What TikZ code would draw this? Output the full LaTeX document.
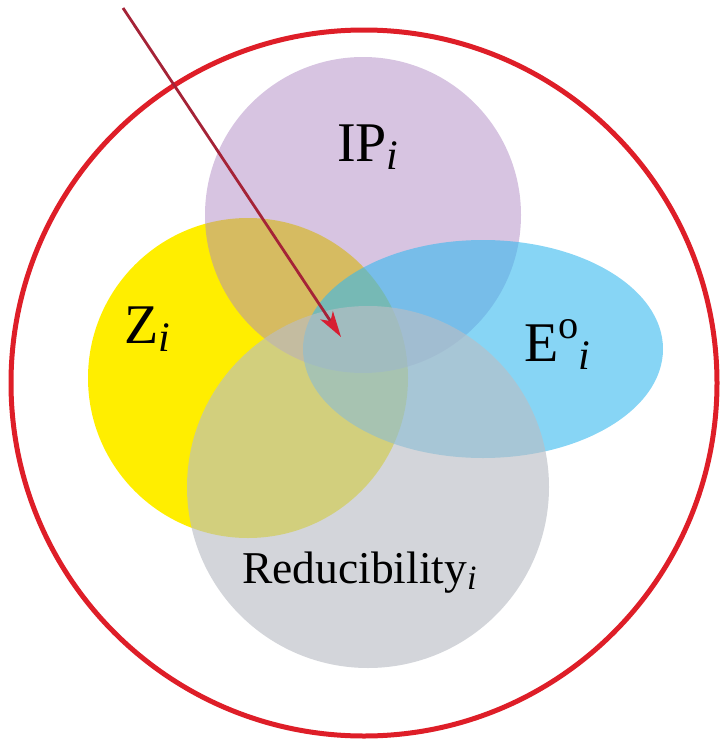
\documentclass[tikz,border=0pt]{standalone}
\usepackage{fontspec}
\setmainfont{Liberation Serif}
\usetikzlibrary{arrows.meta}
\definecolor{ipcol}{RGB}{175,137,195}
\definecolor{zcol}{RGB}{255,238,0}
\definecolor{ecol}{RGB}{55,185,238}
\definecolor{rcol}{RGB}{186,190,197}
\definecolor{ringred}{RGB}{222,30,40}
\definecolor{arrowline}{RGB}{165,35,55}
\definecolor{arrowheadcol}{RGB}{215,30,50}
\newcommand{\subidx}{\raisebox{-0.15em}{\scalebox{0.75}{\itshape i}}}
\newcommand{\supo}{\raisebox{0.40em}{\scalebox{0.72}{o}}}
\tikzset{
  biglabel/.style={inner sep=0pt, anchor=base west, font=\fontsize{56}{62}\selectfont},
  redlabel/.style={inner sep=0pt, anchor=base west, font=\fontsize{45.5}{50}\selectfont},
  ring/.style={draw=ringred, line width=5pt},
  pointer/.style={draw=arrowline, line width=2.8pt,
    -{Stealth[length=26pt, width=15pt, inset=7pt, color=arrowheadcol]}}
}
\begin{document}
\begin{tikzpicture}[x=1pt,y=-1pt]
\useasboundingbox (0,0) rectangle (720,744);
% sets
\fill[zcol] (248,378) circle (160pt);
\fill[ipcol, fill opacity=0.5] (363,215) circle (158pt);
\fill[ecol, fill opacity=0.6] (483,349) ellipse (180pt and 109pt);
\fill[rcol, fill opacity=0.64] (368,487) circle (181pt);
% outer ring
\draw[ring] (364,383) circle (353pt);
% labels
\node[biglabel] (ip) at (337,161) {IP\subidx};
\node[biglabel] (z) at (124,343) {Z\subidx};
\node[biglabel] (e) at (524,361) {E\supo\subidx};
\node[redlabel] (red) at (242,583) {Reducibility\subidx};
% arrow
\coordinate (arrowstart) at (123,8);
\coordinate (arrowtip) at (341,337);
\draw[pointer] (arrowstart) -- (arrowtip);
\end{tikzpicture}
\end{document}
